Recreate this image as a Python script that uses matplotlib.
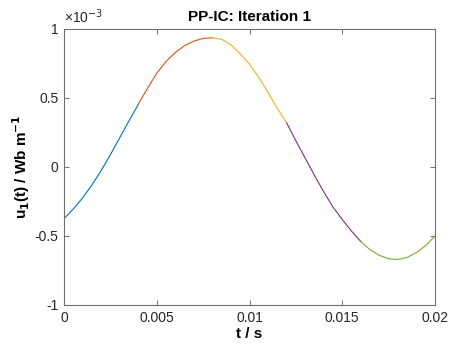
import matplotlib
matplotlib.use('Agg')
import matplotlib.pyplot as plt

plt.rcParams['font.family'] = ['Liberation Sans', 'DejaVu Sans']

# time in ms, values in units of 1e-3 Wb/m, one list per iteration segment
t1 = [0.0, 0.5, 1.0, 1.5, 2.0, 2.5, 3.0, 3.5, 4.0]
u1 = [-0.374, -0.304, -0.224, -0.131, -0.026, 0.089, 0.212, 0.334, 0.452]
t2 = [4.0, 4.5, 5.0, 5.5, 6.0, 6.5, 7.0, 7.5, 8.0]
u2 = [0.455, 0.57, 0.68, 0.765, 0.83, 0.88, 0.912, 0.932, 0.936]
t3 = [8.0, 8.5, 9.0, 9.5, 10.0, 10.5, 11.0, 11.5, 12.0]
u3 = [0.936, 0.925, 0.885, 0.82, 0.745, 0.65, 0.54, 0.425, 0.32]
t4 = [12.0, 12.5, 13.0, 13.5, 14.0, 14.5, 15.0, 15.5, 16.0]
u4 = [0.32, 0.19, 0.065, -0.06, -0.18, -0.29, -0.38, -0.465, -0.54]
t5 = [16.0, 16.5, 17.0, 17.5, 18.0, 18.5, 19.0, 19.5, 20.0]
u5 = [-0.54, -0.60, -0.64, -0.665, -0.67, -0.655, -0.62, -0.57, -0.50]

segments = [(t1, u1), (t2, u2), (t3, u3), (t4, u4), (t5, u5)]
colors = ['#0072BD', '#D95319', '#EDB120', '#7E2F8E', '#77AC30']

xticks = [0, 0.005, 0.01, 0.015, 0.02]
xticklabels = ['0', '0.005', '0.01', '0.015', '0.02']
yticks = [-1e-3, -0.5e-3, 0, 0.5e-3, 1e-3]
yticklabels = ['-1', '-0.5', '0', '0.5', '1']

fig = plt.figure(figsize=(4.51, 3.46), dpi=100)
ax = fig.add_axes([0.142, 0.1185, 0.8225, 0.7977])

for (t, u), c in zip(segments, colors):
    ax.plot([x * 1e-3 for x in t], [y * 1e-3 for y in u], color=c, lw=0.8)

ax.set_xlim(0, 0.02)
ax.set_ylim(-1e-3, 1e-3)
ax.set_xticks(xticks)
ax.set_xticklabels(xticklabels)
ax.set_yticks(yticks)
ax.set_yticklabels(yticklabels)

axcol = '#707070'
for s in ax.spines.values():
    s.set_color(axcol)
    s.set_linewidth(0.8)
ax.tick_params(direction='in', length=3.5, width=0.7, color=axcol,
               labelcolor='#262626', labelsize=10, top=True, right=True, pad=4)

ax.set_title('PP-IC: Iteration 1', fontsize=11, fontweight='bold', color='#000000', pad=6)
ax.set_xlabel('t / s', fontsize=11, fontweight='bold', labelpad=2)
ax.set_ylabel('u$_\\mathbf{1}$(t) / Wb m$^\\mathbf{-1}$', fontsize=11, fontweight='bold', labelpad=2)
ax.text(0.0, 1.012, '\u00d710$^{-3}$', transform=ax.transAxes, fontsize=10,
        color='#262626', ha='left', va='bottom')

fig.savefig('out.png', dpi=100)
